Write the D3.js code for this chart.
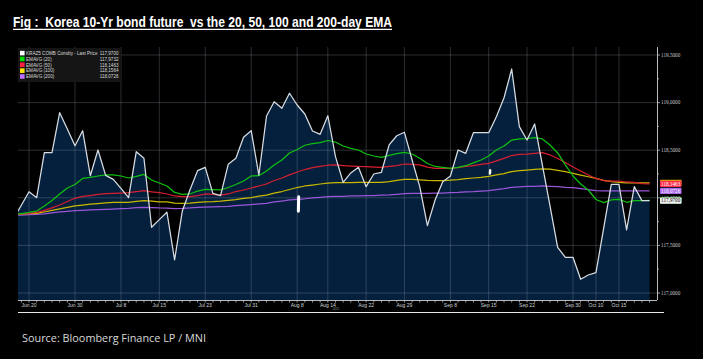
<!DOCTYPE html>
<html><head><meta charset="utf-8">
<script src="https://cdn.jsdelivr.net/npm/d3@7"></script>
<style>html,body{margin:0;padding:0;background:#000;}svg{display:block;}</style>
</head><body>
<svg id="chart" width="703" height="359"></svg>
<script>
// ---- data (trading days, Korea 10Y bond future) ----
const dates = ["06-18","06-19","06-20","06-23","06-24","06-25","06-26","06-27","06-30",
"07-01","07-02","07-03","07-04","07-07","07-08","07-09","07-10","07-11","07-14","07-15","07-16","07-17","07-18","07-21","07-22","07-23","07-24","07-25","07-28","07-29","07-30","07-31",
"08-01","08-04","08-05","08-06","08-07","08-08","08-11","08-12","08-13","08-14","08-18","08-19","08-20","08-21","08-22","08-25","08-26","08-27","08-28","08-29",
"09-01","09-02","09-03","09-04","09-05","09-08","09-09","09-10","09-11","09-12","09-15","09-16","09-17","09-18","09-19","09-22","09-23","09-24","09-25","09-26","09-29","09-30",
"10-01","10-02","10-10","10-13","10-14","10-15","10-16","10-17","10-20","10-21"];

const lastPrice = [117.782,117.922,118.064,118.001,118.474,118.474,118.894,118.723,118.547,118.705,118.232,118.502,118.236,118.194,118.098,118.001,118.484,118.415,117.690,117.771,117.848,117.347,117.858,118.082,118.285,118.320,118.047,118.022,118.352,118.415,118.636,118.705,118.239,118.859,119.009,118.940,119.098,118.975,118.880,118.702,118.667,118.862,118.432,118.163,118.261,118.320,118.117,118.250,118.268,118.555,118.652,118.688,118.397,118.117,117.707,117.977,118.169,118.229,118.502,118.467,118.684,118.684,118.684,118.852,119.051,119.353,118.747,118.607,118.775,118.345,117.914,117.480,117.375,117.375,117.144,117.189,117.213,117.678,118.142,118.142,117.662,118.117,117.970,117.970];

const ema20 = [117.825,117.835,117.846,117.861,117.914,117.972,118.040,118.103,118.140,118.203,118.215,118.229,118.242,118.240,118.229,118.208,118.224,118.245,118.187,118.155,118.124,118.056,118.037,118.040,118.071,118.089,118.085,118.082,118.108,118.140,118.176,118.229,118.232,118.282,118.345,118.397,118.471,118.507,118.552,118.570,118.579,118.602,118.586,118.544,118.520,118.502,118.460,118.439,118.425,118.446,118.465,118.478,118.460,118.415,118.360,118.329,118.320,118.310,118.320,118.337,118.366,118.397,118.439,118.502,118.544,118.607,118.618,118.621,118.631,118.618,118.555,118.471,118.345,118.229,118.145,118.082,117.982,117.949,117.977,117.984,117.953,117.970,117.970,117.9732];

const ema50 = [117.825,117.830,117.837,117.848,117.867,117.895,117.924,117.961,117.995,118.014,118.024,118.035,118.043,118.047,118.050,118.054,118.066,118.075,118.063,118.054,118.040,118.019,118.012,118.012,118.024,118.040,118.035,118.029,118.040,118.066,118.082,118.103,118.124,118.145,118.182,118.208,118.240,118.271,118.297,118.316,118.329,118.342,118.345,118.339,118.334,118.329,118.327,118.323,118.320,118.329,118.339,118.355,118.350,118.345,118.323,118.310,118.310,118.310,118.318,118.329,118.339,118.350,118.362,118.387,118.415,118.444,118.455,118.460,118.467,118.474,118.450,118.413,118.371,118.323,118.282,118.240,118.203,118.180,118.176,118.176,118.166,118.161,118.150,118.1463];

const ema100 = [117.825,117.830,117.833,117.837,117.851,117.869,117.884,117.900,117.914,117.924,117.933,117.940,117.947,117.951,117.952,117.953,117.963,117.970,117.964,117.958,117.956,117.945,117.942,117.945,117.953,117.958,117.961,117.966,117.974,117.982,117.993,118.003,118.017,118.029,118.050,118.066,118.087,118.108,118.124,118.134,118.145,118.155,118.159,118.159,118.159,118.161,118.161,118.162,118.163,118.171,118.182,118.193,118.193,118.189,118.182,118.180,118.181,118.185,118.192,118.201,118.208,118.215,118.226,118.240,118.255,118.276,118.286,118.292,118.299,118.305,118.300,118.289,118.274,118.257,118.239,118.221,118.203,118.182,118.171,118.163,118.158,118.158,118.157,118.1564];

const ema200 = [117.819,117.819,117.822,117.826,117.832,117.842,117.851,117.858,117.864,117.869,117.874,117.877,117.879,117.882,117.886,117.889,117.896,117.900,117.897,117.893,117.891,117.887,117.889,117.893,117.899,117.903,117.905,117.906,117.911,117.919,117.924,117.929,117.935,117.942,117.956,117.966,117.977,117.984,117.990,117.998,118.005,118.012,118.014,118.015,118.019,118.021,118.022,118.024,118.029,118.032,118.037,118.043,118.046,118.047,118.047,118.048,118.050,118.054,118.057,118.063,118.066,118.071,118.076,118.087,118.097,118.110,118.116,118.119,118.121,118.124,118.121,118.117,118.110,118.106,118.097,118.087,118.075,118.074,118.073,118.073,118.073,118.073,118.073,118.0726];

const tickDates = ["06-20","06-30","07-08","07-15","07-23","07-31","08-08","08-14","08-22","08-29","09-08","09-15","09-22","09-30","10-10","10-15"];
const tickLabels = ["Jun 20","Jun 30","Jul 8","Jul 15","Jul 23","Jul 31","Aug 8","Aug 14","Aug 22","Aug 29","Sep 8","Sep 15","Sep 22","Sep 30","Oct 10","Oct 15"];
const yTicks = [117, 117.5, 118, 118.5, 119, 119.5];
const yMinor = [117.25, 117.75, 118.25, 118.75, 119.25];

const seriesNames = ["KRAZ5 COMB Comdty - Last Price","EMAVG (20)","EMAVG (50)","EMAVG (100)","EMAVG (200)"];
const seriesLegendValues = ["117,9700","117,9732","118,1463","118,1564","118,0726"];
// event markers seen on chart (date, from value, to value)
const markerDates = ["08-08","09-15"];
const markerLow = [117.86, 118.255];
const markerHigh = [118.01, 118.29];

// ---- layout ----
const svg = d3.select("#chart");
const W = 703, H = 359;
const plot = {left: 18, right: 657, top: 47, bottom: 300};

svg.append("rect").attr("width", W).attr("height", H).attr("fill", "#000");

const idx = d3.range(dates.length);
const x = d3.scaleLinear().domain([0, dates.length - 1]).range([13.7, 649.6]);
const xd = d => x(dates.indexOf(d));
const y = d3.scaleLinear().domain([117, 119.5]).range([293, 55]);
const fmt = v => d3.format(".4f")(v).replace(".", ",");

svg.append("defs").append("clipPath").attr("id", "clip")
  .append("rect").attr("x", plot.left).attr("y", plot.top)
  .attr("width", plot.right - plot.left).attr("height", plot.bottom - plot.top);

const g = svg.append("g").attr("clip-path", "url(#clip)");

// area under price
g.append("path")
  .datum(idx)
  .attr("fill", "#04203d")
  .attr("d", d3.area().x(i => x(i)).y0(plot.bottom).y1(i => y(lastPrice[i])));

// gridlines
const gridColor = "rgba(150,160,175,0.28)";
g.selectAll(".vg").data(tickDates).join("line")
  .attr("x1", d => xd(d)).attr("x2", d => xd(d))
  .attr("y1", plot.top).attr("y2", plot.bottom)
  .attr("stroke", gridColor).attr("stroke-width", 1);
g.selectAll(".hg").data(yTicks).join("line")
  .attr("x1", plot.left).attr("x2", plot.right)
  .attr("y1", d => y(d)).attr("y2", d => y(d))
  .attr("stroke", gridColor).attr("stroke-width", 1);

// lines
const line = arr => d3.line().x(i => x(i)).y(i => y(arr[i]))(idx);
const lines = [
  {arr: ema200, color: "#9a55d8"},
  {arr: ema100, color: "#c9b800"},
  {arr: ema50, color: "#d81e30"},
  {arr: ema20, color: "#10c010"},
  {arr: lastPrice, color: "#d8dde3"}
];
lines.forEach(s => {
  g.append("path").attr("d", line(s.arr)).attr("fill", "none")
    .attr("stroke", s.color).attr("stroke-width", 1.25).attr("stroke-linejoin", "round");
});

// event markers
markerDates.forEach((d, k) => {
  g.append("line").attr("x1", xd(d) + 1.5).attr("x2", xd(d) + 1.2)
    .attr("y1", y(markerHigh[k])).attr("y2", y(markerLow[k]))
    .attr("stroke", "#fff").attr("stroke-width", k === 0 ? 3 : 2.4).attr("stroke-linecap", "round");
});

// x axis
svg.append("line").attr("x1", plot.left).attr("x2", plot.right)
  .attr("y1", plot.bottom + 0.5).attr("y2", plot.bottom + 0.5)
  .attr("stroke", "#b8bcc2").attr("stroke-width", 1);
svg.selectAll(".xm").data(idx.filter(i => x(i) >= plot.left)).join("line")
  .attr("x1", i => x(i)).attr("x2", i => x(i))
  .attr("y1", plot.bottom + 1).attr("y2", plot.bottom + 2.5)
  .attr("stroke", "#b8bcc2").attr("stroke-width", 0.8);
svg.selectAll(".xl").data(tickDates).join("text")
  .attr("x", d => xd(d)).attr("y", plot.bottom + 6.5)
  .attr("text-anchor", "middle").attr("fill", "#d0d4d8")
  .attr("font-family", "Liberation Sans, Arial, sans-serif").attr("font-size", 5)
  .text((d, k) => tickLabels[k]);
svg.append("text").attr("x", xd("08-14") + 8).attr("y", plot.bottom + 10)
  .attr("text-anchor", "middle").attr("fill", "#8a9096")
  .attr("font-family", "Liberation Sans, Arial, sans-serif").attr("font-size", 3)
  .text("2025");

// y axis (right)
svg.append("line").attr("x1", plot.right + 0.5).attr("x2", plot.right + 0.5)
  .attr("y1", plot.top).attr("y2", plot.bottom)
  .attr("stroke", "#b8bcc2").attr("stroke-width", 1);
svg.selectAll(".yt").data(yTicks).join("line")
  .attr("x1", plot.right).attr("x2", plot.right + 3)
  .attr("y1", d => y(d)).attr("y2", d => y(d))
  .attr("stroke", "#b8bcc2").attr("stroke-width", 0.8);
svg.selectAll(".ym").data(yMinor).join("line")
  .attr("x1", plot.right).attr("x2", plot.right + 2)
  .attr("y1", d => y(d)).attr("y2", d => y(d))
  .attr("stroke", "#b8bcc2").attr("stroke-width", 0.8);
svg.selectAll(".yl").data(yTicks).join("text")
  .attr("x", plot.right + 4).attr("y", d => y(d) + 1.8)
  .attr("fill", "#c8ccd0")
  .attr("font-family", "Liberation Serif, serif").attr("font-size", 5.2)
  .text(d => fmt(d));

// value tags at right (hidden ones drawn as bare boxes underneath)
const tags = [
  {v: ema100[ema100.length - 1], fill: "#d2b400", tc: "#000", label: false},
  {v: ema50[ema50.length - 1], fill: "#ff2c4c", tc: "#fff", label: true},
  {v: ema200[ema200.length - 1], fill: "#a968e8", tc: "#fff", label: true},
  {v: ema20[ema20.length - 1], fill: "#10c010", tc: "#000", label: false},
  {v: lastPrice[lastPrice.length - 1], fill: "#f2f2f2", tc: "#000", label: true}
];
tags.forEach(t => {
  const ty = y(t.v);
  svg.append("rect").attr("x", plot.right + 3).attr("y", ty - 3.2)
    .attr("width", 21.5).attr("height", 6.4).attr("rx", 0.8).attr("fill", t.fill);
  if (t.label) {
    svg.append("text").attr("x", plot.right + 4).attr("y", ty + 1.8)
      .attr("fill", t.tc).attr("font-family", "Liberation Serif, serif").attr("font-size", 5.2)
      .text(fmt(t.v));
  }
});

// legend
const lg = svg.append("g");
lg.append("rect").attr("x", plot.left).attr("y", 48).attr("width", 103).attr("height", 34)
  .attr("fill", "#151515");
const swatch = ["#ffffff", "#00dd00", "#ff2040", "#ffe600", "#c070ff"];
seriesNames.forEach((n, k) => {
  const ry = 53.2 + k * 5.85;
  lg.append("rect").attr("x", 20).attr("y", ry - 2.4).attr("width", 4.6).attr("height", 4.6).attr("fill", swatch[k]);
  lg.append("text").attr("x", 26).attr("y", ry + 1.6).attr("fill", "#d8d8d8")
    .attr("font-family", "Liberation Sans, Arial, sans-serif").attr("font-size", 4.6).text(n);
  lg.append("text").attr("x", 118.5).attr("y", ry + 1.6).attr("text-anchor", "end").attr("fill", "#d8d8d8")
    .attr("font-family", "Liberation Sans, Arial, sans-serif").attr("font-size", 4.6).text(seriesLegendValues[k]);
});

// title
svg.append("text").attr("x", 13).attr("y", 27)
  .style("white-space", "pre")
  .attr("fill", "#fff").attr("font-family", "Liberation Sans Narrow, Arial Narrow, Liberation Sans, sans-serif")
  .attr("font-weight", "bold").attr("font-size", 15.5)
  .attr("textLength", 379).attr("lengthAdjust", "spacingAndGlyphs")
  .text("Fig :  Korea 10-Yr bond future  vs the 20, 50, 100 and 200-day EMA");
svg.append("line").attr("x1", 13).attr("x2", 392).attr("y1", 29.3).attr("y2", 29.3)
  .attr("stroke", "#fff").attr("stroke-width", 1.2);

// separator and source
svg.append("line").attr("x1", 18).attr("x2", 664).attr("y1", 312.5).attr("y2", 312.5)
  .attr("stroke", "#e8e8e8").attr("stroke-width", 1);
svg.append("text").attr("x", 22).attr("y", 342)
  .attr("fill", "#d8d8d8").attr("font-family", "Open Sans, Liberation Sans, sans-serif").attr("font-size", 11.5)
  .attr("textLength", 184).attr("lengthAdjust", "spacingAndGlyphs")
  .text("Source: Bloomberg Finance LP / MNI");
</script>
</body></html>
